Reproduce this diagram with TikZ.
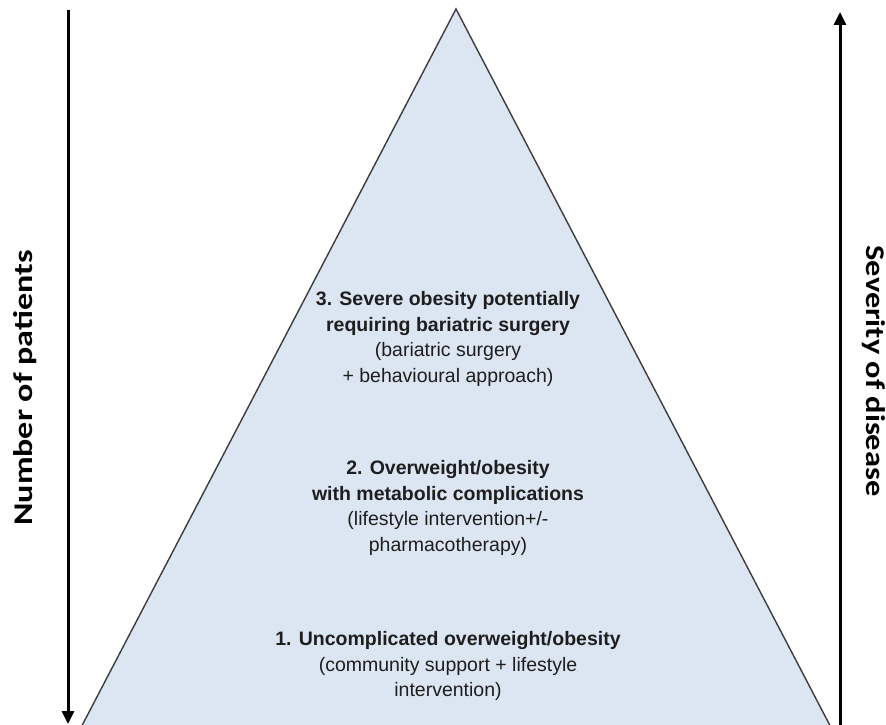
\documentclass[tikz,border=0pt]{standalone}
\usepackage{fontspec}
\setmainfont{Liberation Sans}
\newfontfamily\labelfont{Carlito}
\usetikzlibrary{arrows.meta}
\definecolor{pyrfill}{RGB}{220,230,242}
\definecolor{pyrline}{RGB}{60,60,60}
\definecolor{txt}{RGB}{30,30,30}
\tikzset{
  pyramid/.style={fill=pyrfill, draw=pyrline, line width=1.4pt, line join=miter},
  axisarrow/.style={line width=3pt, black, -{Triangle[length=13pt,width=12pt]}},
  block/.style={align=center, text=txt, font=\fontsize{19.5}{25.8}\selectfont, inner sep=0pt},
  sidelabel/.style={font=\labelfont\bfseries\fontsize{27}{32}\selectfont, text=black, inner sep=0pt, anchor=base}
}
\begin{document}
\begin{tikzpicture}[x=1pt,y=-1pt]
\useasboundingbox (0,0) rectangle (886,725);
\begin{scope}
\clip (0,0) rectangle (886,725);
\coordinate (apex) at (456,9);
\coordinate (bl) at (81.5,726.5);
\coordinate (br) at (830.5,726.5);
\draw[pyramid] (apex) -- (bl) -- (br) -- cycle;
\end{scope}
\coordinate (ltop) at (68,10);
\coordinate (lbot) at (68,724);
\coordinate (rbot) at (840,725);
\coordinate (rtop) at (840,12);
\draw[axisarrow] (ltop) -- (lbot);
\draw[axisarrow] (rbot) -- (rtop);
\node[sidelabel, rotate=90] (npat) at (32,388) {\scalebox{1.26}[1]{Number of patients}};
\node[sidelabel, rotate=-90] (sev) at (866,371) {\scalebox{1.2}[1]{Severity of disease}};
\node[block] (b3) at (448,339) {\textbf{3. Severe obesity potentially}\\\textbf{requiring bariatric surgery}\\(bariatric surgery\\+ behavioural approach)};
\node[block] (b2) at (448,508) {\textbf{2. Overweight/obesity}\\\textbf{with metabolic complications}\\(lifestyle intervention+/-\\pharmacotherapy)};
\node[block] (b1) at (448,666) {\textbf{1. Uncomplicated overweight/obesity}\\(community support + lifestyle\\intervention)};
\end{tikzpicture}
\end{document}
